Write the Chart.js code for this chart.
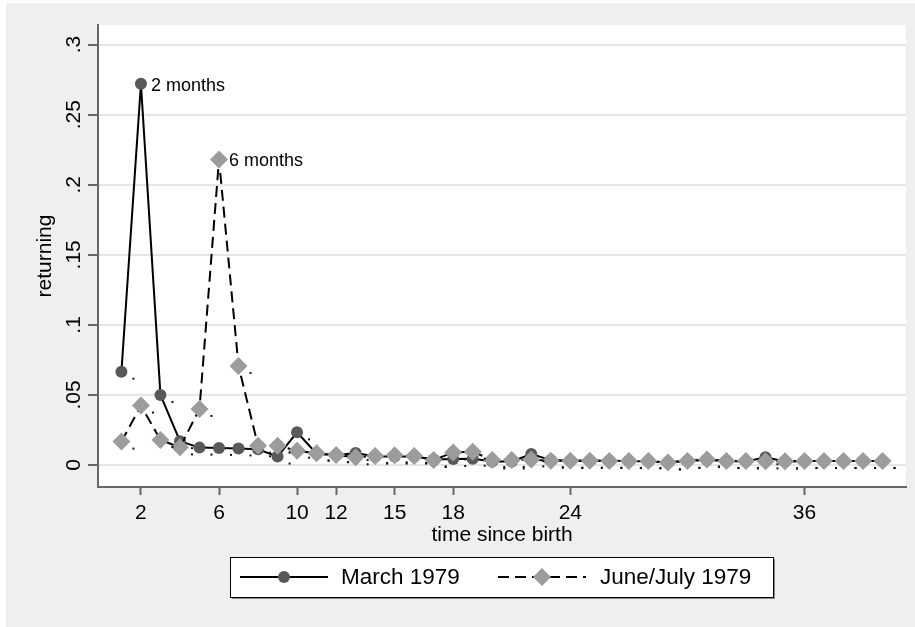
<!DOCTYPE html>
<html>
<head>
<meta charset="utf-8">
<script src="https://cdn.jsdelivr.net/npm/chart.js@4"></script>
<style>
	html, body { margin: 0; padding: 0; background: #fff; }
	canvas { display: block; }
</style>
</head>
<body>
<canvas id="chart" width="915" height="627"></canvas>
<script>
// ---------------- data ---------------- //
const months = [1, 2, 3, 4, 5, 6, 7, 8, 9, 10, 11, 12, 13, 14, 15, 16, 17, 18, 19, 20,
	21, 22, 23, 24, 25, 26, 27, 28, 29, 30, 31, 32, 33, 34, 35, 36, 37, 38, 39, 40];
const march1979 = [0.0666, 0.272, 0.050, 0.017, 0.0124, 0.0122, 0.0118, 0.0112, 0.006, 0.0233,
	0.008, 0.007, 0.0085, 0.006, 0.006, 0.006, 0.004, 0.0043, 0.0045, 0.0025,
	0.0025, 0.0078, 0.0035, 0.003, 0.003, 0.003, 0.0028, 0.0025, 0.002, 0.003,
	0.0035, 0.0028, 0.0025, 0.0055, 0.0025, 0.0028, 0.0028, 0.0028, 0.0028, 0.0028];
const juneJuly1979 = [0.0167, 0.0424, 0.0179, 0.0126, 0.040, 0.218, 0.0707, 0.0138, 0.0138, 0.0102,
	0.0083, 0.0071, 0.0055, 0.0064, 0.0069, 0.0064, 0.0036, 0.009, 0.0095, 0.0036,
	0.0036, 0.004, 0.003, 0.003, 0.003, 0.0029, 0.0029, 0.0029, 0.0017, 0.0029,
	0.004, 0.0029, 0.0029, 0.0026, 0.0026, 0.0029, 0.0029, 0.0029, 0.0029, 0.0029];
// labelled points: month -> text
const marchLabels = { 2: '2 months' };
const juneLabels = { 6: '6 months' };

const xTicks = [2, 6, 10, 12, 15, 18, 24, 36];
const yTicks = [0, 0.05, 0.1, 0.15, 0.2, 0.25, 0.3];
const yTickLabels = ['0', '.05', '.1', '.15', '.2', '.25', '.3'];
const xTitle = 'time since birth';
const yTitle = 'returning';
const seriesNames = ['March 1979', 'June/July 1979'];

const FONT = '"Liberation Sans", Arial, sans-serif';

const toPoints = (vals) => months.map((m, i) => ({ x: m, y: vals[i] }));

// background, plot region
const backdrop = {
	id: 'backdrop',
	beforeDraw(chart) {
		const { ctx, chartArea: a } = chart;
		ctx.save();
		ctx.fillStyle = '#ffffff';
		ctx.fillRect(0, 0, chart.width, chart.height);
		ctx.fillStyle = '#efefef';
		ctx.fillRect(6, 3, chart.width - 6, chart.height - 3);
		ctx.fillStyle = '#ffffff';
		ctx.fillRect(a.left, a.top, a.right - a.left, a.bottom - a.top);
		ctx.restore();
	},
};

// marker labels: text for the peaks, a "." for every other point
const markerLabels = {
	id: 'markerLabels',
	afterDatasetsDraw(chart) {
		const { ctx } = chart;
		const labelSets = [marchLabels, juneLabels];
		ctx.save();
		chart.data.datasets.forEach((ds, di) => {
			const meta = chart.getDatasetMeta(di);
			meta.data.forEach((pt, i) => {
				const txt = labelSets[di][months[i]];
				if (txt) {
					ctx.fillStyle = '#000';
					ctx.font = `18px ${FONT}`;
					ctx.textAlign = 'left';
					ctx.textBaseline = 'middle';
					ctx.fillText(txt, pt.x + 10, pt.y + 2);
				} else {
					ctx.fillStyle = '#111';
					ctx.fillRect(pt.x + 11, pt.y + 6, 2, 2);
				}
			});
		});
		ctx.restore();
	},
};

function drawMarker(ctx, style, x, y) {
	ctx.fillStyle = style.color;
	ctx.beginPath();
	if (style.shape === 'circle') {
		ctx.arc(x, y, style.r, 0, Math.PI * 2);
	} else {
		ctx.moveTo(x - style.r, y);
		ctx.lineTo(x, y - style.r);
		ctx.lineTo(x + style.r, y);
		ctx.lineTo(x, y + style.r);
		ctx.closePath();
	}
	ctx.fill();
}

// rotated y labels, axis titles and the legend box
const annotations = {
	id: 'annotations',
	afterDraw(chart) {
		const { ctx, chartArea: a } = chart;
		const yScale = chart.scales.y;
		ctx.save();
		ctx.fillStyle = '#000';

		ctx.font = `21px ${FONT}`;
		ctx.textAlign = 'center';
		ctx.textBaseline = 'alphabetic';
		yTicks.forEach((v, i) => {
			ctx.save();
			ctx.translate(80, yScale.getPixelForValue(v));
			ctx.rotate(-Math.PI / 2);
			ctx.fillText(yTickLabels[i], 0, 0);
			ctx.restore();
		});

		ctx.save();
		ctx.translate(51, (a.top + a.bottom) / 2);
		ctx.rotate(-Math.PI / 2);
		ctx.fillText(yTitle, 0, 0);
		ctx.restore();

		ctx.fillText(xTitle, (a.left + a.right) / 2, 541);

		// legend
		const box = { x: 230, y: 557, w: 543, h: 40 };
		ctx.fillStyle = '#8a8a8a';
		ctx.fillRect(box.x + 2, box.y + 2, box.w, box.h);
		ctx.fillStyle = '#fff';
		ctx.fillRect(box.x, box.y, box.w, box.h);
		ctx.strokeStyle = '#000';
		ctx.lineWidth = 1;
		ctx.strokeRect(box.x + 0.5, box.y + 0.5, box.w, box.h);

		const cy = box.y + box.h / 2;
		const entries = [
			{ x0: 240, textX: 341, dash: [], marker: { shape: 'circle', r: 6, color: '#595959' } },
			{ x0: 498, textX: 600, dash: [11, 6], marker: { shape: 'diamond', r: 9, color: '#9c9c9c' } },
		];
		entries.forEach((e, i) => {
			ctx.strokeStyle = '#000';
			ctx.lineWidth = 2;
			ctx.setLineDash(e.dash);
			ctx.beginPath();
			ctx.moveTo(e.x0, cy);
			ctx.lineTo(e.x0 + 88, cy);
			ctx.stroke();
			ctx.setLineDash([]);
			drawMarker(ctx, e.marker, e.x0 + 44, cy);
			ctx.fillStyle = '#000';
			ctx.font = `22.5px ${FONT}`;
			ctx.textAlign = 'left';
			ctx.textBaseline = 'middle';
			ctx.fillText(seriesNames[i], e.textX, cy + 1);
		});
		ctx.restore();
	},
};

const ctx = /** @type {HTMLCanvasElement} */ (document.getElementById('chart'));
new Chart(ctx, {
	type: 'line',
	data: {
		datasets: [
			{
				label: seriesNames[0],
				data: toPoints(march1979),
				borderColor: '#000',
				borderWidth: 2,
				pointStyle: 'circle',
				pointRadius: 6,
				pointBackgroundColor: '#595959',
				pointBorderWidth: 0,
				tension: 0,
				order: 2,
			},
			{
				label: seriesNames[1],
				data: toPoints(juneJuly1979),
				borderColor: '#000',
				borderWidth: 2,
				borderDash: [11, 6],
				pointStyle: 'rectRot',
				pointRadius: 9,
				pointBackgroundColor: '#9c9c9c',
				pointBorderWidth: 0,
				tension: 0,
				order: 1,
			},
		],
	},
	options: {
		responsive: false,
		animation: false,
		devicePixelRatio: 1,
		layout: { padding: { left: 0, top: 25, right: 9, bottom: 0 } },
		scales: {
			x: {
				type: 'linear',
				min: -0.2,
				max: 41.2,
				afterBuildTicks: (scale) => {
					scale.ticks = xTicks.map((v) => ({ value: v }));
				},
				afterFit: (scale) => {
					scale.height = 140;
				},
				ticks: {
					color: '#000',
					font: { family: FONT, size: 21 },
					padding: 6,
					maxRotation: 0,
					autoSkip: false,
					callback: (v) => String(v),
				},
				grid: {
					drawOnChartArea: false,
					tickLength: 8,
					tickColor: '#666',
					tickWidth: 2,
				},
				border: { color: '#666', width: 2 },
			},
			y: {
				type: 'linear',
				min: -0.0157,
				max: 0.314,
				afterBuildTicks: (scale) => {
					scale.ticks = yTicks.map((v) => ({ value: v }));
				},
				afterFit: (scale) => {
					scale.width = 98;
				},
				ticks: { display: false },
				grid: {
					color: '#e6e6e6',
					lineWidth: 2,
					tickLength: 10,
					tickColor: '#666',
					tickWidth: 2,
				},
				border: { color: '#666', width: 2 },
			},
		},
		plugins: {
			legend: { display: false },
			tooltip: { enabled: false },
		},
	},
	plugins: [backdrop, markerLabels, annotations],
});
</script>
</body>
</html>
